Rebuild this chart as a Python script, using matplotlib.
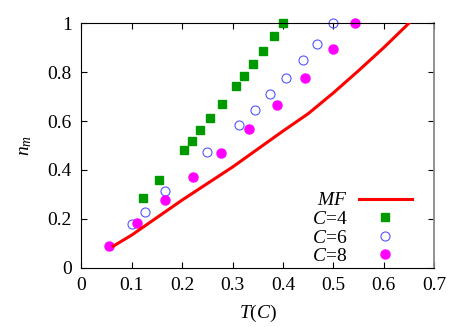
import matplotlib
matplotlib.use('Agg')
import matplotlib.pyplot as plt

plt.rcParams['font.family'] = ['Liberation Serif', 'DejaVu Serif']
plt.rcParams['mathtext.fontset'] = 'custom'
plt.rcParams['mathtext.rm'] = 'Liberation Serif'
plt.rcParams['mathtext.it'] = 'Liberation Serif:italic'
plt.rcParams['font.size'] = 14

# mean-field curve
mf_T = [0.063, 0.1, 0.2, 0.3, 0.4, 0.45, 0.5, 0.55, 0.6, 0.65]
mf_n = [0.088, 0.134, 0.277, 0.412, 0.559, 0.630, 0.715, 0.806, 0.900, 1.0]

# C=4
c4_T = [0.123, 0.153, 0.204, 0.219, 0.2355, 0.2555, 0.279, 0.3065, 0.3225, 0.340, 0.360, 0.383, 0.400]
c4_n = [0.285, 0.359, 0.483, 0.518, 0.563, 0.611, 0.669, 0.742, 0.783, 0.832, 0.887, 0.949, 1.0]

# C=6
c6_T = [0.100, 0.1256, 0.1666, 0.2495, 0.3125, 0.3455, 0.375, 0.407, 0.439, 0.467, 0.4987]
c6_n = [0.179, 0.228, 0.313, 0.473, 0.584, 0.646, 0.712, 0.776, 0.849, 0.915, 1.0]

# C=8
c8_T = [0.0553, 0.110, 0.1666, 0.2217, 0.277, 0.333, 0.388, 0.4437, 0.4986, 0.5437]
c8_n = [0.090, 0.183, 0.277, 0.372, 0.468, 0.567, 0.667, 0.777, 0.895, 1.0]

fig = plt.figure(figsize=(4.67, 3.27), dpi=100)
ax = fig.add_axes([0.1745, 0.1813, 0.7548, 0.7474])

ax.plot(mf_T, mf_n, color='#ff0000', lw=2.2, label='$\\mathit{MF}$', zorder=3)
ax.plot(c4_T, c4_n, 's', color='#009900', ms=6, mec='#009900', label='$C$=4', clip_on=False)
ax.plot(c6_T, c6_n, 'o', mfc='none', mec='#5555ff', mew=0.8, ms=6.5, label='$C$=6', clip_on=False)
ax.plot(c8_T, c8_n, 'o', color='#ff00ff', ms=6.5, label='$C$=8', clip_on=False)

ax.set_xlim(0, 0.7)
ax.set_ylim(0, 1)
ax.set_xticks([0, 0.1, 0.2, 0.3, 0.4, 0.5, 0.6, 0.7])
ax.set_xticklabels(['0', '0.1', '0.2', '0.3', '0.4', '0.5', '0.6', '0.7'])
ax.set_yticks([0, 0.2, 0.4, 0.6, 0.8, 1.0])
ax.set_yticklabels(['0', '0.2', '0.4', '0.6', '0.8', '1'])
ax.tick_params(direction='in', top=True, right=True, length=4, pad=7)
ax.spines['right'].set_color('#888888')
ax.spines['right'].set_linewidth(1.3)

ax.set_xlabel('$T$($C$)', labelpad=6)
ax.set_ylabel('$n_m$', labelpad=10)

leg = ax.legend(loc='lower right', bbox_to_anchor=(0.975, -0.045), frameon=False,
                markerfirst=False, handlelength=2.7, handletextpad=0.6,
                labelspacing=0.05, borderaxespad=0.3)

fig.savefig('out.png', dpi=100)
